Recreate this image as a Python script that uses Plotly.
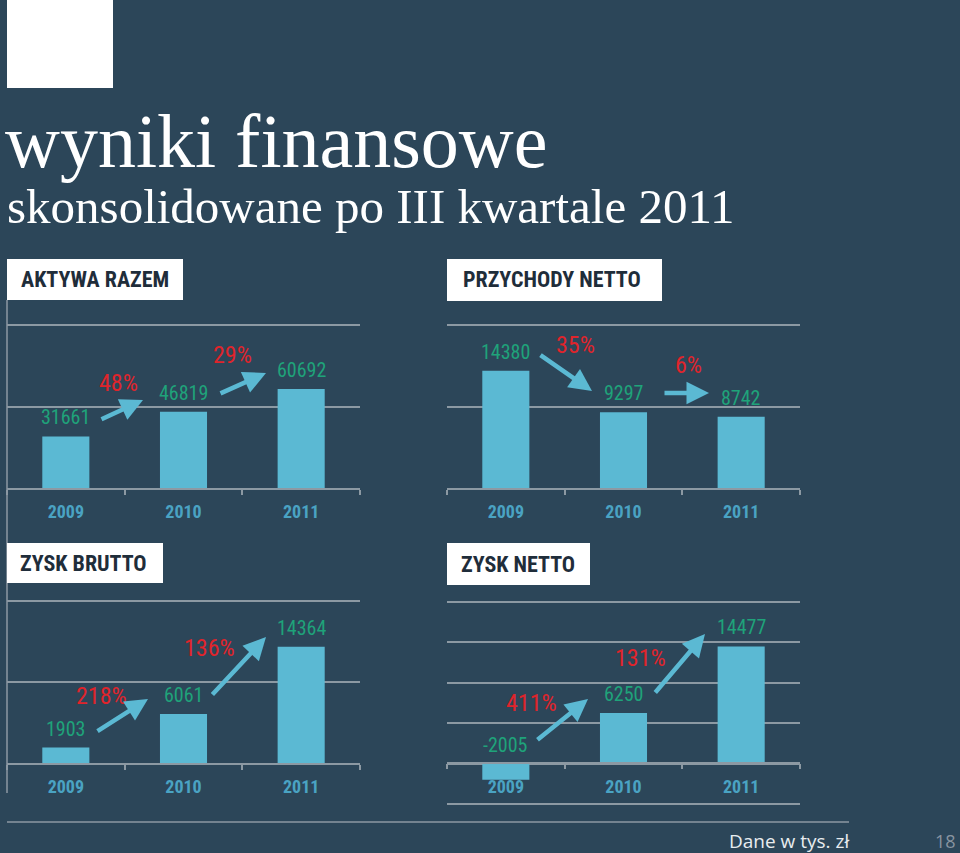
import plotly.graph_objects as go

# ---------------- data ----------------
years = ["2009", "2010", "2011"]
aktywa = [31661, 46819, 60692]
przychody = [14380, 9297, 8742]
zysk_brutto = [1903, 6061, 14364]
zysk_netto = [-2005, 6250, 14477]

aktywa_pct = ["48%", "29%"]
przychody_pct = ["35%", "6%"]
brutto_pct = ["218%", "136%"]
netto_pct = ["411%", "131%"]

panel_titles = ["AKTYWA RAZEM", "PRZYCHODY NETTO", "ZYSK BRUTTO", "ZYSK NETTO"]
main_title = "wyniki finansowe"
sub_title = "skonsolidowane po III kwartale 2011"
note = "Dane w tys. zł"
page_no = "18"

# ---------------- style ----------------
W, H = 960, 853
BG = "#2C4659"
BAR = "#5BB9D3"
TICK = "#4AA3C3"
GREEN = "#1FA37A"
RED = "#E0242B"
GRID = "#8C99A3"
DARK = "#1F2D3A"
NARROW = "Liberation Sans Narrow, Arial Narrow, Roboto Condensed, Roboto, sans-serif"
SERIF = "Liberation Serif, DejaVu Serif, serif"


def px(x):
    return x / W


def py(y):
    return 1 - y / H


fig = go.Figure()

# panel geometry in page pixels
panels = [
    dict(vals=aktywa, x0=7, x1=360, yz=488, yt=325, top=100000, yb=488, bot=0, dt=50000),
    dict(vals=przychody, x0=447, x1=800, yz=488, yt=325, top=20000, yb=488, bot=0, dt=10000),
    dict(vals=zysk_brutto, x0=7, x1=360, yz=763, yt=601, top=20000, yb=763, bot=0, dt=10000),
    dict(vals=zysk_netto, x0=447, x1=800, yz=763.3, yt=601.7, top=20000, yb=804, bot=-5000, dt=5000),
]

annotations = []
for i, p in enumerate(panels, start=1):
    sfx = "" if i == 1 else str(i)
    vpp = (p["top"] - p["bot"]) / (p["yb"] - p["yt"])
    pad = 2
    ybot_px = p["yb"] + (pad if p["bot"] < 0 else 0)
    rng_lo = p["bot"] - (pad * vpp if p["bot"] < 0 else 0)
    rng_hi = p["top"] + pad * vpp
    fig.add_trace(go.Bar(
        x=years, y=p["vals"], marker=dict(color=BAR, line=dict(width=0)),
        xaxis="x" + sfx, yaxis="y" + sfx, hoverinfo="skip", showlegend=False,
    ))
    xa = dict(
        domain=[px(p["x0"]), px(p["x1"])], type="category", range=[-0.5, 2.5],
        autorange=False,
        showline=True, linecolor=GRID, linewidth=1.5,
        ticks="outside", tickson="boundaries", ticklen=5, tickwidth=1.5, tickcolor=GRID,
        tickfont=dict(family=NARROW, size=18, color=TICK, weight="bold"),
        tickangle=0, ticklabelstandoff=7, layer="above traces",
        showgrid=False, zeroline=False, fixedrange=True,
        anchor="y" + sfx,
    )
    if p["bot"] < 0:
        xa["anchor"] = "free"
        xa["position"] = py(p["yz"])
    ya = dict(
        domain=[py(ybot_px), py(p["yt"] - pad)], range=[rng_lo, rng_hi], autorange=False,
        showgrid=True, gridcolor=GRID, gridwidth=1.5, tick0=0, dtick=p["dt"],
        showticklabels=False, zeroline=False, showline=False, ticks="",
        anchor="x" + sfx, fixedrange=True,
    )
    fig.update_layout(**{"xaxis" + sfx: xa, "yaxis" + sfx: ya})
    for k, v in enumerate(p["vals"]):
        annotations.append(dict(
            x=k, y=max(v, 0), xref="x" + sfx, yref="y" + sfx, text=str(v),
            showarrow=False, yshift=19, yanchor="middle", xanchor="center",
            font=dict(family=NARROW, size=20, color=GREEN),
        ))

# percent labels (centres in page pixels)
pct_pos = [
    (aktywa_pct, [(118, 383), (232, 355)]),
    (przychody_pct, [(575, 345), (688, 365)]),
    (brutto_pct, [(101, 696), (209, 648)]),
    (netto_pct, [(531, 703), (640, 658)]),
]
for texts, poss in pct_pos:
    for t, (x, y) in zip(texts, poss):
        annotations.append(dict(
            x=px(x), y=py(y), xref="paper", yref="paper", text=t, showarrow=False,
            xanchor="center", yanchor="middle",
            font=dict(family=NARROW, size=24, color=RED),
        ))

# arrows: (tail, head) in page pixels
arrows = [
    ((100, 420), (143, 400)), ((219, 394), (266, 373)),
    ((539, 354), (592, 391)), ((663, 393), (709, 393)),
    ((96, 732), (148, 699)), ((211, 696), (266, 637)),
    ((536, 741), (588, 699)), ((654, 694), (705, 634)),
]
for (tx, ty), (hx, hy) in arrows:
    annotations.append(dict(
        x=px(hx), y=py(hy), xref="paper", yref="paper", text="",
        showarrow=True, ax=tx - hx, ay=ty - hy, axref="pixel", ayref="pixel",
        arrowhead=2, arrowsize=1.0, arrowwidth=4.5, arrowcolor=BAR, standoff=0,
    ))

# lines, white square and panel title boxes
shapes = [
    dict(type="line", xref="paper", yref="paper", x0=px(7), x1=px(7), y0=py(300), y1=py(793),
         line=dict(color=GRID, width=1.5)),
    dict(type="line", xref="paper", yref="paper", x0=px(7), x1=px(849), y0=py(822), y1=py(822),
         line=dict(color=GRID, width=1.5)),
    dict(type="rect", xref="paper", yref="paper", x0=px(7), x1=px(113), y0=py(88), y1=py(-2),
         fillcolor="white", line=dict(width=0)),
]
boxes = [(7, 183, 259, 300, 19), (447, 662, 259, 301, 461), (7, 163, 543, 583, 18), (447, 590, 543, 585, 459)]
for t, (bx0, bx1, by0, by1, tx) in zip(panel_titles, boxes):
    shapes.append(dict(type="rect", xref="paper", yref="paper", x0=px(bx0), x1=px(bx1),
                       y0=py(by1), y1=py(by0), fillcolor="white", line=dict(width=0)))
    annotations.append(dict(
        x=px(tx), y=py((by0 + by1) / 2), xref="paper", yref="paper", text=t, showarrow=False,
        xanchor="left", yanchor="middle",
        font=dict(family=NARROW, size=22, color=DARK, weight="bold"),
    ))

# page titles
annotations.append(dict(x=px(3), y=py(141), xref="paper", yref="paper", text=main_title,
                        showarrow=False, xanchor="left", yanchor="middle",
                        font=dict(family=SERIF, size=76, color="white")))
annotations.append(dict(x=px(5), y=py(206), xref="paper", yref="paper", text=sub_title,
                        showarrow=False, xanchor="left", yanchor="middle",
                        font=dict(family=SERIF, size=49, color="white")))
annotations.append(dict(x=px(789), y=py(841), xref="paper", yref="paper", text=note,
                        showarrow=False, xanchor="center", yanchor="middle",
                        font=dict(family="Open Sans, sans-serif", size=19, color="#E8ECEF")))
annotations.append(dict(x=px(945), y=py(841), xref="paper", yref="paper", text=page_no,
                        showarrow=False, xanchor="center", yanchor="middle",
                        font=dict(family="Open Sans, sans-serif", size=18, color="#8894A0")))

fig.update_layout(
    width=W, height=H, margin=dict(l=0, r=0, t=0, b=0),
    paper_bgcolor=BG, plot_bgcolor="rgba(0,0,0,0)",
    bargap=0.6, showlegend=False,
    annotations=annotations, shapes=shapes,
)

fig.write_html("out.html", config={"displayModeBar": False},
               post_script="document.body.style.margin='0';document.body.style.background='" + BG + "';")
